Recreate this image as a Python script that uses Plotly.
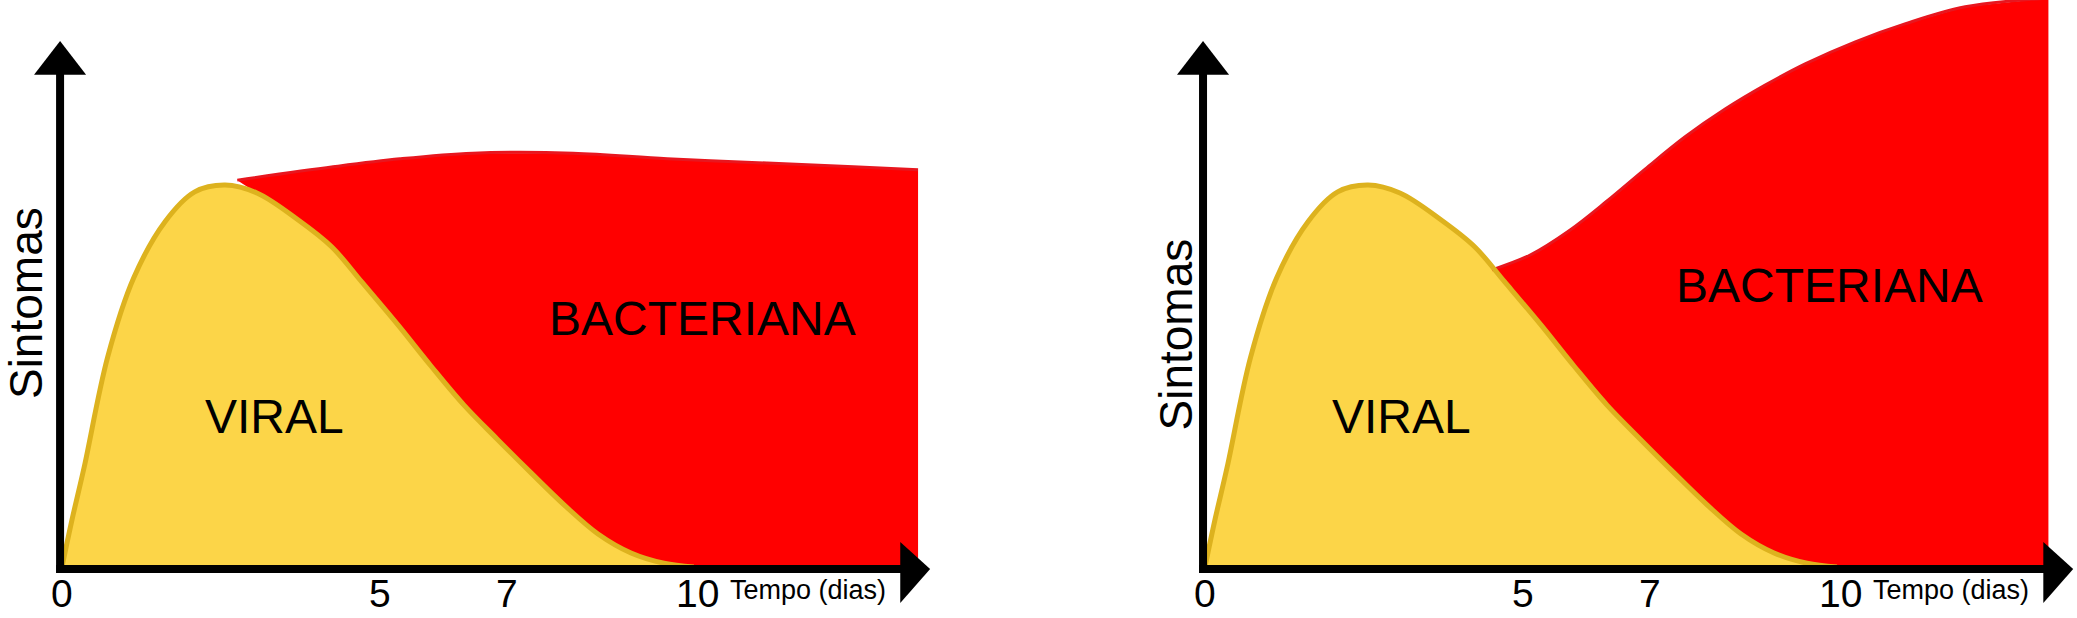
"""Viral vs bacterial symptom curves, two schematic panels."""
import plotly.graph_objects as go

# days since onset / symptom intensity (shared viral curve)
viral_days = [0, 0.16, 0.35, 0.72, 1.13, 1.62, 2.09, 2.57, 3.07, 3.72, 4.25, 4.72,
              5.29, 5.81, 6.33, 6.85, 7.39, 7.91, 8.44, 8.96, 9.48, 9.95, 10.39]
viral_vals = [0, 1.26, 2.63, 5.53, 7.61, 9.08, 9.87, 10.05, 9.84, 9.13, 8.42, 7.5,
              6.37, 5.29, 4.26, 3.37, 2.47, 1.63, 0.87, 0.37, 0.1, 0, 0]

# top edge of the bacterial area, left panel (plateau)
bact_left_days = [2.76, 4.27, 5.32, 6.47, 8.05, 9.53, 11.1, 12.46, 13.48]
bact_left_vals = [10.18, 10.53, 10.74, 10.89, 10.89, 10.74, 10.63, 10.53, 10.45]

# top edge of the bacterial area, right panel (worsening)
bact_right_days = [4.52, 5.12, 5.75, 6.33, 6.93, 7.56, 8.19, 8.82, 9.45, 10.24,
                   11.02, 11.97, 13.28]
bact_right_vals = [7.82, 8.21, 8.87, 9.63, 10.47, 11.32, 12.05, 12.68, 13.24, 13.82,
                   14.29, 14.74, 14.97]

tick_days = [0, 5, 7, 10]
tick_text = ["0", "5", "7", "10"]

FONT = "Liberation Sans, Arial, sans-serif"
YELLOW = "#FCD548"
GOLD = "#DDB21E"
RED = "#FF0000"
RED_EDGE = "#E8161E"


def bacterial_polygon(top_days, top_vals):
    tail = [(d, v) for d, v in zip(viral_days, viral_vals) if d > top_days[0]]
    xs = list(top_days) + [top_days[-1]] + [d for d, _ in reversed(tail)]
    ys = list(top_vals) + [0] + [v for _, v in reversed(tail)]
    return xs, ys


def add_panel(fig, n, top_days, top_vals, bact_xy, viral_xy, sint_xy):
    xa, ya = ("x", "y") if n == 1 else (f"x{n}", f"y{n}")

    fig.add_trace(go.Scatter(
        x=viral_days, y=viral_vals, mode="lines", line=dict(width=0, shape="spline"),
        fill="tozeroy", fillcolor=YELLOW, xaxis=xa, yaxis=ya, hoverinfo="skip"))
    px, py = bacterial_polygon(top_days, top_vals)
    fig.add_trace(go.Scatter(
        x=px, y=py, mode="lines", line=dict(width=0), fill="toself",
        fillcolor=RED, xaxis=xa, yaxis=ya, hoverinfo="skip"))
    fig.add_trace(go.Scatter(
        x=top_days, y=top_vals, mode="lines",
        line=dict(color=RED_EDGE, width=3, shape="spline"),
        xaxis=xa, yaxis=ya, hoverinfo="skip"))
    last = max(i for i, v in enumerate(viral_vals) if v > 0) + 1
    fig.add_trace(go.Scatter(
        x=viral_days[:last + 1], y=viral_vals[:last + 1], mode="lines",
        line=dict(color=GOLD, width=5, shape="spline"),
        xaxis=xa, yaxis=ya, hoverinfo="skip"))

    # axes drawn as thick black arrows
    ax = dict(xref=xa, yref=ya, layer="above")
    fig.add_shape(type="line", x0=-0.03, x1=-0.03, y0=-0.16, y1=13.05,
                  line=dict(color="black", width=8), **ax)
    fig.add_shape(type="path", path="M -0.44,12.95 L 0.38,12.95 L -0.03,13.84 Z",
                  fillcolor="black", line=dict(width=0), **ax)
    fig.add_shape(type="line", x0=-0.09, x1=13.25, y0=-0.05, y1=-0.05,
                  line=dict(color="black", width=8), **ax)
    fig.add_shape(type="path", path="M 13.2,0.66 L 13.2,-0.95 L 13.67,-0.05 Z",
                  fillcolor="black", line=dict(width=0), **ax)

    for d, t in zip(tick_days, tick_text):
        fig.add_annotation(x=d, y=-0.7, text=t, showarrow=False, xref=xa, yref=ya,
                           font=dict(family=FONT, size=39, color="black"))
    fig.add_annotation(x=11.75, y=-0.6, text="Tempo (dias)", showarrow=False,
                       xref=xa, yref=ya, font=dict(family=FONT, size=27, color="black"))
    fig.add_annotation(x=bact_xy[0], y=bact_xy[1], text="BACTERIANA", showarrow=False,
                       xref=xa, yref=ya, font=dict(family=FONT, size=48, color="black"))
    fig.add_annotation(x=viral_xy[0], y=viral_xy[1], text="VIRAL", showarrow=False,
                       xref=xa, yref=ya, font=dict(family=FONT, size=48, color="black"))
    fig.add_annotation(x=sint_xy[0], y=sint_xy[1], text="Sintomas", showarrow=False,
                       textangle=-90, xref=xa, yref=ya, borderpad=0,
                       font=dict(family=FONT, size=46, color="black"))


fig = go.Figure()
add_panel(fig, 1, bact_left_days, bact_left_vals, (10.08, 6.53), (3.35, 3.95), (-0.57, 6.94))
add_panel(fig, 2, bact_right_days, bact_right_vals, (9.83, 7.42), (3.1, 3.95), (-0.46, 6.11))

hidden = dict(visible=False, showgrid=False, zeroline=False, fixedrange=True)
fig.update_layout(
    width=2077, height=618,
    margin=dict(l=0, r=0, t=0, b=0),
    paper_bgcolor="white", plot_bgcolor="white",
    showlegend=False,
    xaxis=dict(domain=[0, 0.4998], range=[-0.976, 15.37], **hidden),
    yaxis=dict(domain=[0, 1], range=[-1.342, 14.92], **hidden),
    xaxis2=dict(domain=[0.5002, 1], range=[-2.614, 13.73], anchor="y2", **hidden),
    yaxis2=dict(domain=[0, 1], range=[-1.342, 14.92], anchor="x2", **hidden),
)

fig.write_html("out.html", config={"displayModeBar": False},
               post_script="document.body.style.margin='0';")
